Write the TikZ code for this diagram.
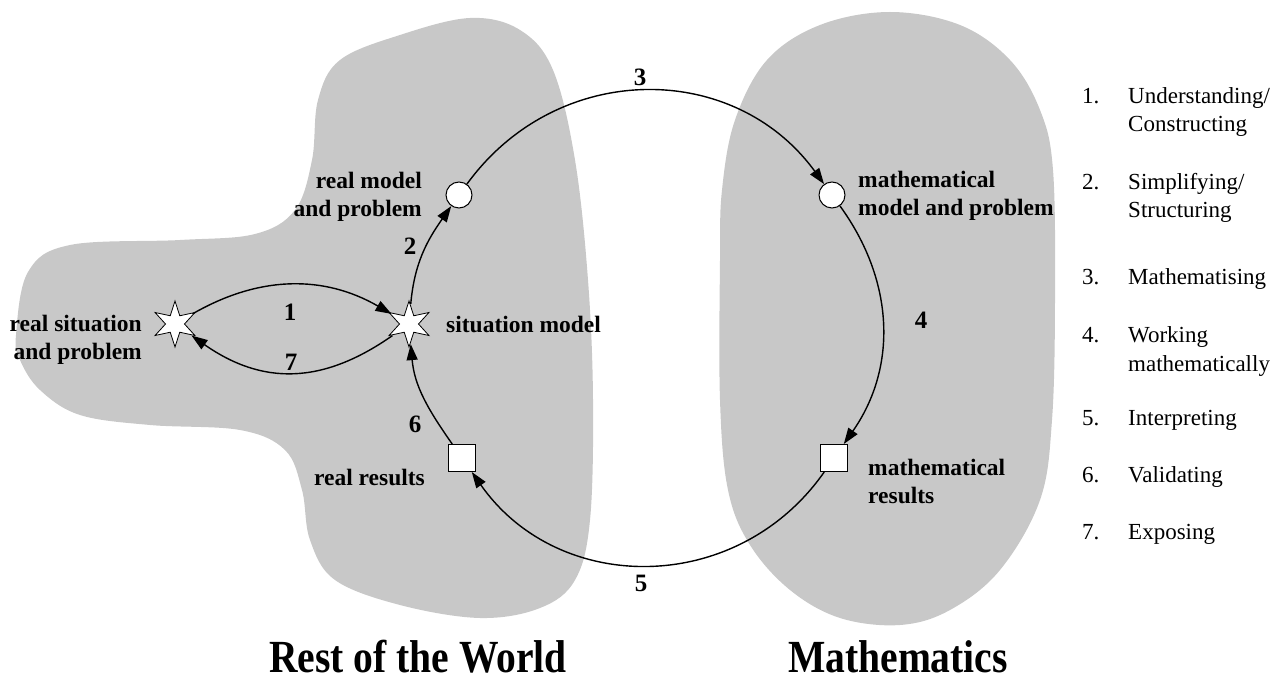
\documentclass[tikz,border=0pt]{standalone}
\usepackage{fontspec}
\setmainfont{Liberation Serif}
\usetikzlibrary{shapes.geometric,arrows.meta,calc}
\definecolor{blobgray}{RGB}{200,200,200}
\begin{document}
\begin{tikzpicture}[x=1pt,y=-1pt,
  blob/.style={fill=blobgray,draw=none},
  conn/.style={line width=1.4pt,-{Triangle[length=16pt,width=11pt]}},
  hub/.style={circle,minimum size=40pt,inner sep=0pt},
  starline/.style={draw,fill=white,line width=0.8pt,line join=miter},
  circnode/.style={circle,minimum size=26pt,inner sep=0pt,draw,fill=white,line width=1pt},
  sqnode/.style={rectangle,minimum size=27pt,inner sep=0pt,draw,fill=white,line width=1pt},
  lbl/.style={font=\fontsize{23.5}{28}\selectfont\bfseries,inner sep=0pt},
  num/.style={font=\fontsize{25}{25}\selectfont\bfseries,inner sep=0pt},
  big/.style={font=\fontsize{46}{46}\selectfont\bfseries,inner sep=0pt,anchor=base,xscale=0.86},
  itemnum/.style={font=\fontsize{23}{28}\selectfont,inner sep=0pt,anchor=base west},
  itemtxt/.style={font=\fontsize{23}{28}\selectfont,inner sep=0pt,anchor=base west}
]
\useasboundingbox (0,0) rectangle (1274,684);

% grey regions
\fill[blob] plot[smooth cycle,tension=0.6] coordinates {
 (16,335) (28,272) (70,245) (180,240) (255,234) (295,210) (312,160) (318,100)
 (340,60) (400,35) (470,18) (520,30) (553,70) (575,160) (588,280) (593,400)
 (590,520) (575,580) (540,608) (480,618) (400,605) (335,580) (310,540) (302,490)
 (285,450) (240,430) (150,425) (80,415) (40,390) (20,360)};
\fill[blob] plot[smooth cycle,tension=0.6] coordinates {
 (720,400) (720,260) (722,190) (735,120) (767,60) (820,25) (890,12) (960,25)
 (1010,60) (1040,110) (1053,170) (1055,300) (1052,420) (1040,500) (1000,570)
 (950,610) (900,625) (840,618) (790,590) (750,545) (728,490)};

% nodes
\node[hub] (rs) at (175,324) {};
\node[hub] (sm) at (409,324) {};
\foreach \s in {rs,sm} {
  \draw[starline] ($(\s.center)+(90:23)$)
    \foreach \i in {1,...,11} { -- ($(\s.center)+({90+30*\i}:{16.25+6.75*cos(180*\i)})$) } -- cycle;
}
\node[circnode] (rm) at (459,195) {};
\node[circnode] (mm) at (832,195) {};
\node[sqnode] (rr) at (462,458) {};
\node[sqnode] (mr) at (834,458) {};

% connectors
\draw[conn] (rs) to[out=30,in=150] (sm);
\draw[conn] (sm) to[out=-145,in=-35,looseness=1.1] (rs);
\draw[conn] (sm) to[out=85,in=235] (rm);
\draw[conn] (rm) to[out=54,in=126,looseness=1.1] (mm);
\draw[conn] (mm) to[out=-54,in=55] (mr);
\draw[conn] (mr) to[out=-125,in=-55,looseness=1.1] (rr);
\draw[conn] (rr) to[out=125,in=-85] (sm);

% labels
\node[lbl,align=right,anchor=east] (trs) at (142,340) {real situation\\and problem};
\node[lbl,anchor=base west] (tsm) at (446,333) {situation model};
\node[lbl,align=right,anchor=east] (trm) at (422,197) {real model\\and problem};
\node[lbl,align=left,anchor=west] (tmm) at (858,196) {mathematical\\model and problem};
\node[lbl,anchor=base east] (trr) at (425,485) {real results};
\node[lbl,align=left,anchor=west] (tmr) at (868,481) {mathematical\\results};

% step numbers
\node[num] (n1) at (290,312) {1};
\node[num] (n2) at (410,246) {2};
\node[num] (n3) at (640,77) {3};
\node[num] (n4) at (921,320) {4};
\node[num] (n5) at (641,583) {5};
\node[num] (n6) at (415,424) {6};
\node[num] (n7) at (291,362) {7};

% titles
\node[big] (rw) at (418,672) {Rest of the World};
\node[big] (ma) at (898,672) {Mathematics};

% legend
\node[itemnum] (l1) at (1082,104) {1.};
\node[itemtxt] (t1a) at (1128,104) {Understanding/};
\node[itemtxt] (t1b) at (1128,132) {Constructing};
\node[itemnum] (l2) at (1082,190) {2.};
\node[itemtxt] (t2a) at (1128,190) {Simplifying/};
\node[itemtxt] (t2b) at (1128,218) {Structuring};
\node[itemnum] (l3) at (1082,285) {3.};
\node[itemtxt] (t3) at (1128,285) {Mathematising};
\node[itemnum] (l4) at (1082,343) {4.};
\node[itemtxt] (t4a) at (1128,343) {Working};
\node[itemtxt] (t4b) at (1128,371) {mathematically};
\node[itemnum] (l5) at (1082,425) {5.};
\node[itemtxt] (t5) at (1128,425) {Interpreting};
\node[itemnum] (l6) at (1082,482) {6.};
\node[itemtxt] (t6) at (1128,482) {Validating};
\node[itemnum] (l7) at (1082,539) {7.};
\node[itemtxt] (t7) at (1128,539) {Exposing};
\end{tikzpicture}
\end{document}
